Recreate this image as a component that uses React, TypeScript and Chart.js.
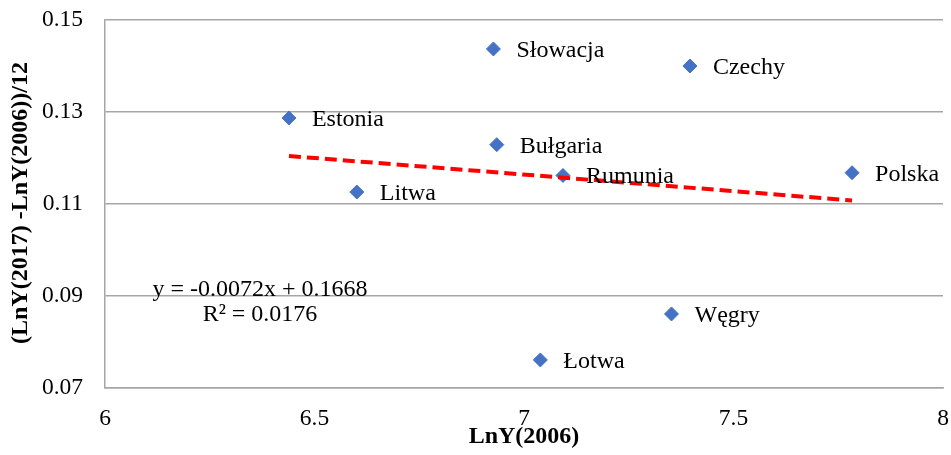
import React, { useEffect, useRef } from "react";
import { Chart, registerables } from "chart.js";

Chart.register(...registerables);

const COUNTRIES = ["Estonia", "Litwa", "Słowacja", "Bułgaria", "Rumunia", "Czechy", "Polska", "Węgry", "Łotwa"];
const LNY2006 = [6.439, 6.601, 6.927, 6.935, 7.093, 7.396, 7.783, 7.352, 7.039];
const GROWTH = [0.1287, 0.1126, 0.1437, 0.1229, 0.1162, 0.14, 0.1168, 0.0861, 0.0761];

const X_TICKS = [6, 6.5, 7, 7.5, 8];
const Y_TICKS = [0.07, 0.09, 0.11, 0.13, 0.15];

const TREND_SLOPE = -0.0072;
const TREND_INTERCEPT = 0.1668;
const EQUATION = "y = -0.0072x + 0.1668";
const R_SQUARED = "R² = 0.0176";

const X_TITLE = "LnY(2006)";
const Y_TITLE = "(LnY(2017) -LnY(2006))/12";

const FONT = '"Liberation Serif", "Times New Roman", serif';

export default function App() {
  const ref = useRef<HTMLCanvasElement | null>(null);

  useEffect(() => {
    if (!ref.current) return;
    const xMin = Math.min(...LNY2006);
    const xMax = Math.max(...LNY2006);

    const textPlugin = {
      id: "texts",
      afterDatasetsDraw(chart: any) {
        const ctx = chart.ctx;
        const xs = chart.scales.x;
        const ys = chart.scales.y;
        const ca = chart.chartArea;
        ctx.save();
        ctx.fillStyle = "#000";
        ctx.font = `24px ${FONT}`;
        ctx.textAlign = "left";
        ctx.textBaseline = "alphabetic";
        COUNTRIES.forEach((c, i) => {
          const px = xs.getPixelForValue(LNY2006[i]);
          const py = ys.getPixelForValue(GROWTH[i]);
          ctx.fillText(c, px + 23, py + 8);
        });
        ctx.textAlign = "center";
        ctx.fillText(EQUATION, ca.left + 155, ca.top + 276);
        ctx.fillText(R_SQUARED, ca.left + 155, ca.top + 301);

        ctx.font = `bold 24px ${FONT}`;
        ctx.textBaseline = "middle";
        ctx.fillText(X_TITLE, (ca.left + ca.right) / 2, 437);
        ctx.translate(21, 203);
        ctx.rotate(-Math.PI / 2);
        ctx.fillText(Y_TITLE, 0, 0);
        ctx.restore();
      },
    };

    const chart = new Chart(ref.current, {
      type: "scatter",
      data: {
        datasets: [
          {
            type: "line",
            label: "trend",
            data: [
              { x: xMin, y: TREND_SLOPE * xMin + TREND_INTERCEPT },
              { x: xMax, y: TREND_SLOPE * xMax + TREND_INTERCEPT },
            ],
            borderColor: "#FF0000",
            borderWidth: 4,
            borderDash: [12, 6],
            pointRadius: 0,
            fill: false,
            order: 0,
          } as any,
          {
            label: "kraje",
            data: LNY2006.map((x, i) => ({ x, y: GROWTH[i] })),
            pointStyle: "rectRot",
            pointRadius: 7,
            pointBackgroundColor: "#4472C4",
            pointBorderColor: "#4472C4",
            pointBorderWidth: 1,
            order: 1,
          },
        ],
      },
      options: {
        responsive: false,
        animation: false,
        events: [],
        layout: { padding: { left: 0, right: 6, top: 20, bottom: 0 } },
        plugins: { legend: { display: false }, tooltip: { enabled: false } },
        scales: {
          x: {
            type: "linear",
            min: 6,
            max: 8,
            afterBuildTicks: (s: any) => {
              s.ticks = X_TICKS.map((v) => ({ value: v }));
            },
            afterFit: (s: any) => {
              s.height = 67;
              s.paddingLeft = 0;
              s.paddingRight = 0;
            },
            grid: { display: false, drawTicks: false },
            border: { display: true, color: "#A6A6A6", width: 1.5 },
            ticks: {
              color: "#000",
              font: { family: FONT, size: 23.5 },
              padding: 17,
              maxRotation: 0,
              callback: (v: any) => String(v),
            },
          },
          y: {
            type: "linear",
            min: 0.07,
            max: 0.15,
            afterBuildTicks: (s: any) => {
              s.ticks = Y_TICKS.map((v) => ({ value: v }));
            },
            afterFit: (s: any) => {
              s.width = 105;
              s.paddingTop = 0;
              s.paddingBottom = 0;
            },
            grid: { display: true, color: "#A6A6A6", lineWidth: 1.5, drawTicks: false },
            border: { display: true, color: "#A6A6A6", width: 1.5 },
            ticks: {
              color: "#000",
              font: { family: FONT, size: 23.5 },
              padding: 22,
              callback: (v: any) => Number(v).toFixed(2),
            },
          },
        },
      },
      plugins: [textPlugin],
    });
    return () => chart.destroy();
  }, []);

  return (
    <div style={{ position: "absolute", left: 0, top: 0, width: 951, height: 455, background: "#fff" }}>
      <canvas ref={ref} width={951} height={455} style={{ display: "block" }} />
    </div>
  );
}
